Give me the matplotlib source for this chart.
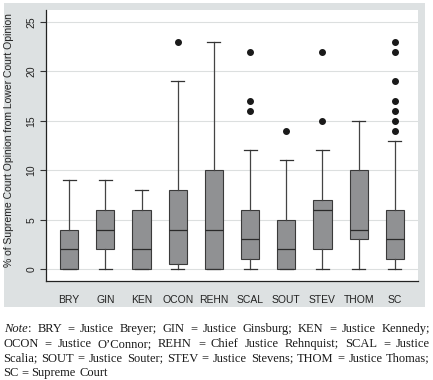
import matplotlib
matplotlib.use('Agg')
import matplotlib.pyplot as plt
from matplotlib.patches import Rectangle

# box plot summaries
justices = ['BRY', 'GIN', 'KEN', 'OCON', 'REHN', 'SCAL', 'SOUT', 'STEV', 'THOM', 'SC']
whislo = [0, 0, 0, 0, 0, 0, 0, 0, 0, 0]
q1 = [0, 2, 0, 0.5, 0, 1, 0, 2, 3, 1]
med = [2, 4, 2, 4, 4, 3, 2, 6, 4, 3]
q3 = [4, 6, 6, 8, 10, 6, 5, 7, 10, 6]
whishi = [9, 9, 8, 19, 23, 12, 11, 12, 15, 13]
outliers = [[], [], [], [23], [], [16, 17, 22], [14], [15, 22], [], [14, 15, 16, 17, 19, 22, 23]]
yticks = [0, 5, 10, 15, 20, 25]

# note text, one list of words per printed line ("Note" is set in italics before line 1)
note_lines = [
    [':', 'BRY', '=', 'Justice', 'Breyer;', 'GIN', '=', 'Justice', 'Ginsburg;', 'KEN', '=',
     'Justice', 'Kennedy;'],
    ['OCON', '=', 'Justice', 'O\u2019Connor;', 'REHN', '=', 'Chief', 'Justice', 'Rehnquist;',
     'SCAL', '=', 'Justice'],
    ['Scalia;', 'SOUT', '=', 'Justice', 'Souter;', 'STEV', '=', 'Justice', 'Stevens;', 'THOM',
     '=', 'Justice', 'Thomas;'],
    ['SC', '=', 'Supreme', 'Court'],
]

W, H = 433, 380
fig = plt.figure(figsize=(W / 100, H / 100), dpi=100)
fig.patch.set_facecolor('white')

# gray graph region behind the plot
fig.add_artist(Rectangle((4 / W, 1 - 307 / H), 421 / W, 304 / H, transform=fig.transFigure,
                         facecolor='#dde1e2', edgecolor='none', zorder=0))

ax = fig.add_axes([46 / W, 1 - 281 / H, 372 / W, 271 / H])
ax.set_facecolor('white')

stats = []
for i, name in enumerate(justices):
    stats.append({'label': name, 'whislo': whislo[i], 'q1': q1[i], 'med': med[i],
                  'q3': q3[i], 'whishi': whishi[i], 'fliers': outliers[i]})

ax.bxp(stats, positions=range(len(justices)), widths=0.5, patch_artist=True,
       boxprops=dict(facecolor='#909193', edgecolor='#3a3a3a', linewidth=0.8),
       medianprops=dict(color='#2a2a2a', linewidth=0.9),
       whiskerprops=dict(color='#444444', linewidth=0.9),
       capprops=dict(color='#333333', linewidth=0.9),
       flierprops=dict(marker='o', markerfacecolor='#1a1a1a', markeredgecolor='#1a1a1a',
                       markersize=4.0),
       capwidths=0.36)

ax.set_xlim(-0.64, 9.64)
ax.set_ylim(-1.2, 26.2)
ax.set_yticks(yticks)
ax.set_yticklabels([str(t) for t in yticks], rotation=90, va='center',
                   fontsize=7.5, family='Liberation Sans', color='#222222')
ax.tick_params(axis='y', length=4, width=0.8, pad=3, color='#333333')
ax.tick_params(axis='x', length=0, pad=10, labelsize=7.5, labelcolor='#222222')
for lab in ax.get_xticklabels():
    lab.set_family('Liberation Sans')
ax.grid(axis='y', color='#dcdfdf', linewidth=0.8)
ax.set_axisbelow(True)
for side in ['top', 'right']:
    ax.spines[side].set_visible(False)
for side in ['left', 'bottom']:
    ax.spines[side].set_color('#222222')
    ax.spines[side].set_linewidth(0.9)

ax.set_ylabel('% of Supreme Court Opinion from Lower Court Opinion', fontsize=7.5,
              family='Liberation Sans', color='#222222', labelpad=4)
ax.yaxis.set_label_coords(-32 / 372, 0.52)

# justified note below the graph
renderer = fig.canvas.get_renderer()
font = dict(family='Liberation Serif', fontsize=9, color='#1a1a1a')


def ink_w(s, style='normal'):
    t = fig.text(0, 0, s, fontstyle=style, **font)
    w = t.get_window_extent(renderer).width
    t.remove()
    return w


def put(x, y, s, style='normal'):
    fig.text(x / W, 1 - y / H, s, fontstyle=style, va='baseline', **font)


x_left, x_right = 3, 430
baselines = [332, 347, 361.5, 376]
for li, words in enumerate(note_lines):
    x0 = x_left
    if li == 0:
        put(x0 + 1, baselines[li], 'Note', 'italic')
        x0 += 1 + ink_w('Note', 'italic') + 0.8
    natural = ink_w(' '.join(words))
    extra = 0
    if li < len(note_lines) - 1:
        extra = (x_right - x0 - natural) / (len(words) - 1)
    for k, w in enumerate(words):
        off = ink_w(' '.join(words[:k + 1])) - ink_w(w)
        put(x0 + off + k * extra, baselines[li], w)

fig.savefig('out.png', dpi=100)
